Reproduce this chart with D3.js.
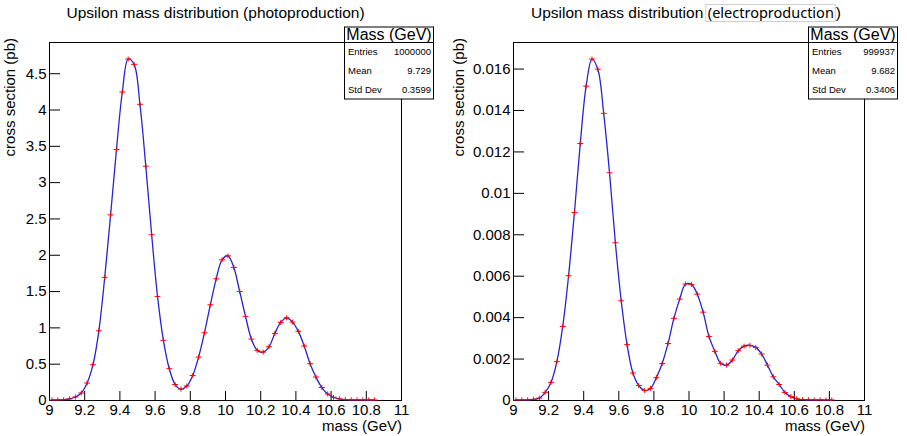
<!DOCTYPE html>
<html lang="en">
<head>
<meta charset="UTF-8">
<title>Upsilon mass distribution</title>
<script src="https://d3js.org/d3.v7.min.js"></script>
<style>
    body { margin: 0; background: #fff; }
    svg { font-family: "Liberation Sans", Arial, sans-serif; }
    svg text { fill: #000; }
    .tick line { stroke: #000; }
</style>
</head>
<body>
<svg id="chart" width="907" height="436"></svg>
<script>
// histogram binning: 60 bins from 9 to 11 GeV
const massRange = [9, 11];
const nBins = 60;

// bin contents
const photoValues = [
    0.0005, 0.001, 0.004, 0.014, 0.041, 0.096, 0.234, 0.486, 0.953, 1.688,
    2.549, 3.448, 4.241, 4.695, 4.622, 4.072, 3.219, 2.276, 1.426, 0.821,
    0.431, 0.213, 0.150, 0.193, 0.337, 0.590, 0.926, 1.311, 1.669, 1.930,
    1.985, 1.825, 1.495, 1.151, 0.839, 0.683, 0.660, 0.733, 0.917, 1.068,
    1.132, 1.073, 0.945, 0.743, 0.500, 0.316, 0.172, 0.083, 0.037, 0.015,
    0.005, 0.002, 0.001, 0.0005, 0.0003, 0.0002, 0, 0, 0, 0
];
const electroValues = [
    0.000002, 0.000005, 0.00001, 0.00003, 0.00009, 0.00037, 0.00085, 0.00185, 0.00355, 0.00600,
    0.00905, 0.01238, 0.01515, 0.01646, 0.01597, 0.01384, 0.01097, 0.00759, 0.00479, 0.00267,
    0.00130, 0.00070, 0.00046, 0.00056, 0.00108, 0.00176, 0.00273, 0.00394, 0.00487, 0.00560,
    0.00558, 0.00511, 0.00424, 0.00307, 0.00235, 0.00177, 0.00168, 0.00193, 0.00238, 0.00260,
    0.00264, 0.00254, 0.00222, 0.00168, 0.00112, 0.00075, 0.00036, 0.00016, 0.00006, 0.00002,
    0.00001, 0.000005, 0.000003, 0.000002, 0.000001, 0, 0, 0, 0, 0
];

// axis ticks
const xTickValues = [9, 9.2, 9.4, 9.6, 9.8, 10, 10.2, 10.4, 10.6, 10.8, 11];
const xTickLabels = ["9", "9.2", "9.4", "9.6", "9.8", "10", "10.2", "10.4", "10.6", "10.8", "11"];
const photoYTicks = [0, 0.5, 1, 1.5, 2, 2.5, 3, 3.5, 4, 4.5];
const photoYLabels = ["0", "0.5", "1", "1.5", "2", "2.5", "3", "3.5", "4", "4.5"];
const electroYTicks = [0, 0.002, 0.004, 0.006, 0.008, 0.01, 0.012, 0.014, 0.016];
const electroYLabels = ["0", "0.002", "0.004", "0.006", "0.008", "0.01", "0.012", "0.014", "0.016"];

// stats boxes
const statsTitle = "Mass (GeV)";
const statsNames = ["Entries", "Mean", "Std Dev"];
const photoStats = ["1000000", "9.729", "0.3599"];
const electroStats = ["999937", "9.682", "0.3406"];

const svg = d3.select("#chart");
const frameTop = 42, frameBottom = 400;

function drawPanel(p) {
    const g = svg.append("g");

    const x = d3.scaleLinear().domain(massRange).range([p.left, p.right]);
    const yMax = d3.max(p.values) * 1.05;
    const y = d3.scaleLinear().domain([0, yMax]).range([frameBottom, frameTop]);

    const binW = (massRange[1] - massRange[0]) / nBins;
    const bins = p.values.map((v, i) => ({
        lo: massRange[0] + i * binW,
        hi: massRange[0] + (i + 1) * binW,
        c: massRange[0] + (i + 0.5) * binW,
        v: v
    }));

    // frame
    g.append("rect")
        .attr("x", p.left + 0.5).attr("y", frameTop + 0.5)
        .attr("width", p.right - p.left).attr("height", frameBottom - frameTop)
        .attr("fill", "none").attr("stroke", "#000");

    // y axis, ticks pointing into the frame
    const yAxis = g.append("g").attr("transform", `translate(${p.left},0)`);
    yAxis.call(d3.axisLeft(y)
        .tickValues(d3.range(0, yMax, p.yMinor))
        .tickSize(-5.5).tickFormat(""));
    yAxis.call(d3.axisLeft(y)
        .tickValues(p.yTicks)
        .tickSize(-11).tickPadding(2.5)
        .tickFormat((d, i) => p.yLabels[i]));
    yAxis.selectAll("text").style("font-size", "15px").style("font-family", null);
    yAxis.selectAll(".domain").remove();

    // x axis
    const xAxis = g.append("g").attr("transform", `translate(0,${frameBottom})`);
    xAxis.call(d3.axisBottom(x)
        .tickValues(d3.range(9, 11.001, 0.05))
        .tickSize(-4.5).tickFormat(""));
    xAxis.call(d3.axisBottom(x)
        .tickValues(xTickValues)
        .tickSize(-9).tickPadding(4)
        .tickFormat((d, i) => xTickLabels[i]));
    xAxis.selectAll("text").style("font-size", "15px").style("font-family", null);
    xAxis.selectAll(".domain").remove();

    // fitted curve through the bins
    const first = bins.findIndex(d => d.v > 0);
    const last = bins.length - 1 - [...bins].reverse().findIndex(d => d.v > 0);
    const line = d3.line()
        .x(d => x(d.c))
        .y(d => y(d.v))
        .curve(d3.curveCatmullRom.alpha(0.5));
    g.append("path")
        .datum(bins.slice(first, last + 1))
        .attr("d", line)
        .attr("fill", "none")
        .attr("stroke", "#2424d8")
        .attr("stroke-width", 1.3);

    // histogram markers: bin width + error bar
    const marks = g.append("g").attr("stroke", "#ff0000").attr("stroke-width", 1);
    const filled = bins.filter(d => d.v > 0);
    marks.selectAll(".hbar").data(filled).enter().append("line")
        .attr("x1", d => x(d.lo)).attr("x2", d => x(d.hi))
        .attr("y1", d => y(d.v)).attr("y2", d => y(d.v));
    marks.selectAll(".vbar").data(filled).enter().append("line")
        .attr("x1", d => x(d.c)).attr("x2", d => x(d.c))
        .attr("y1", d => y(d.v) - 2.5).attr("y2", d => Math.min(frameBottom, y(d.v) + 2.5));

    // axis titles
    g.append("text")
        .attr("transform", `translate(${p.yTitleX},${frameTop - 4}) rotate(-90)`)
        .attr("text-anchor", "end")
        .style("font-size", "15px")
        .text("cross section (pb)");
    g.append("text")
        .attr("x", p.right + 1).attr("y", 431)
        .attr("text-anchor", "end")
        .style("font-size", "15px")
        .text("mass (GeV)");

    // stats box
    const bx = p.statsX, by = 26.5, bw = 89, bh = 72;
    const box = g.append("g");
    box.append("rect")
        .attr("x", bx + 0.5).attr("y", by + 0.5)
        .attr("width", bw).attr("height", bh)
        .attr("fill", "#fff").attr("stroke", "#000");
    box.append("line")
        .attr("x1", bx).attr("x2", bx + bw)
        .attr("y1", frameTop + 0.5).attr("y2", frameTop + 0.5)
        .attr("stroke", "#000");
    box.append("text")
        .attr("x", bx + bw / 2 + 0.5).attr("y", by + 13.5)
        .attr("text-anchor", "middle")
        .style("font-size", "16px")
        .text(statsTitle);
    statsNames.forEach((name, i) => {
        const ty = frameTop + 9.4 + i * 18.8 + 3.5;
        box.append("text")
            .attr("x", bx + 4).attr("y", ty)
            .style("font-size", "9.5px")
            .text(name);
        box.append("text")
            .attr("x", bx + bw - 2).attr("y", ty)
            .attr("text-anchor", "end")
            .style("font-size", "9.5px")
            .text(p.stats[i]);
    });
}

drawPanel({
    left: 49, right: 401,
    values: photoValues,
    yTicks: photoYTicks, yLabels: photoYLabels, yMinor: 0.1,
    yTitleX: 15,
    statsX: 344, stats: photoStats
});

drawPanel({
    left: 513, right: 864,
    values: electroValues,
    yTicks: electroYTicks, yLabels: electroYLabels, yMinor: 0.0005,
    yTitleX: 464,
    statsX: 808, stats: electroStats
});

// titles
svg.append("text")
    .attr("x", 66.5).attr("y", 17.5)
    .style("font-size", "15.5px")
    .text("Upsilon mass distribution (photoproduction)");

const t2 = svg.append("text")
    .attr("x", 531).attr("y", 17.5)
    .style("font-size", "15.5px")
    .text("Upsilon mass distribution");
const t2end = 531 + t2.node().getComputedTextLength();
const odd = svg.append("text")
    .attr("x", t2end + 4.5).attr("y", 17.5)
    .style("font-family", "'Noto Sans', 'Open Sans', sans-serif")
    .style("font-size", "14.5px")
    .text("(electroproduction");
const oddW = odd.node().getComputedTextLength();
svg.append("rect")
    .attr("x", t2end + 2.5).attr("y", 4.5)
    .attr("width", oddW + 3.5).attr("height", 17)
    .attr("fill", "none").attr("stroke", "#cfcfcf");
svg.append("text")
    .attr("x", t2end + oddW + 6.5).attr("y", 17.5)
    .style("font-size", "15.5px")
    .text(")");
</script>
</body>
</html>
